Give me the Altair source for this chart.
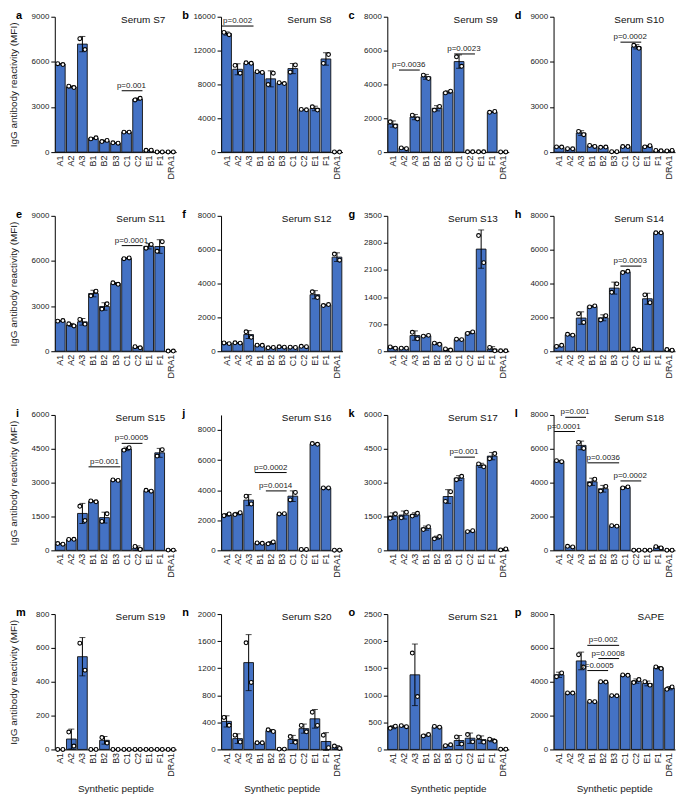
import altair as alt
import pandas as pd

FONT = "Liberation Sans"
BAR_FILL = "#4472C4"

cats = ["A1", "A2", "A3", "B1", "B2", "B3", "C1", "C2", "E1", "F1", "DRA1"]

panel_titles = ["Serum S7", "Serum S8", "Serum S9", "Serum S10",
                "Serum S11", "Serum S12", "Serum S13", "Serum S14",
                "Serum S15", "Serum S16", "Serum S17", "Serum S18",
                "Serum S19", "Serum S20", "Serum S21", "SAPE"]
panel_letters = list("abcdefghijklmnop")
y_max = [9000, 16000, 8000, 9000,
         9000, 8000, 3500, 8000,
         6000, 9000, 6000, 8000,
         800, 2000, 2500, 8000]
y_step = [3000, 4000, 2000, 3000,
          3000, 2000, 700, 2000,
          1500, 2000, 1500, 2000,
          200, 400, 500, 2000]

# replicate values (left dot, right dot) per peptide, in the order of cats
S7_L = [5880, 4380, 7540, 880, 700, 620, 1330, 3470, 120, 10, 10]
S7_R = [5820, 4290, 6820, 950, 780, 590, 1330, 3580, 130, 10, 10]
S8_L = [14150, 10250, 10550, 9500, 7990, 8200, 9450, 5050, 5350, 10490, 20]
S8_R = [13880, 9330, 10500, 9420, 9330, 8100, 10300, 5000, 4970, 11530, 10]
S9_L = [1790, 250, 2180, 4550, 2480, 3500, 5630, 20, 20, 2350, 10]
S9_R = [1530, 200, 1960, 4350, 2700, 3600, 5070, 20, 20, 2400, 10]
S10_L = [350, 230, 1380, 440, 320, 30, 370, 7100, 350, 110, 80]
S10_R = [340, 220, 1160, 380, 340, 30, 370, 6900, 430, 90, 110]
S11_L = [2000, 1820, 2110, 3680, 2800, 4550, 6150, 300, 6850, 6640, 10]
S11_R = [2040, 1680, 1800, 3990, 3150, 4450, 6200, 230, 7100, 7280, 10]
S12_L = [490, 500, 1150, 360, 200, 260, 240, 290, 3510, 2700, 5740]
S12_R = [450, 480, 820, 350, 220, 240, 220, 270, 3170, 2760, 5380]
S13_L = [110, 80, 490, 390, 210, 60, 310, 460, 2990, 100, 10]
S13_R = [80, 80, 320, 410, 180, 30, 300, 500, 2290, 10, 10]
S14_L = [280, 1000, 2220, 2620, 1850, 3480, 4650, 130, 3330, 7000, 100]
S14_R = [350, 950, 1700, 2680, 2100, 3980, 4720, 60, 2870, 7000, 60]
S15_L = [300, 480, 1950, 2190, 1280, 3120, 4440, 170, 2660, 4180, 10]
S15_R = [270, 490, 1320, 2150, 1620, 3100, 4550, 40, 2620, 4460, 10]
S16_L = [2300, 2380, 3600, 490, 430, 2420, 3350, 60, 7100, 4150, 10]
S16_R = [2420, 2500, 3080, 470, 560, 2440, 3850, 60, 7050, 4150, 10]
S17_L = [1420, 1440, 1520, 920, 510, 2170, 3130, 830, 3830, 4060, 20]
S17_R = [1620, 1690, 1640, 1050, 610, 2600, 3280, 870, 3700, 4290, 60]
S18_L = [5300, 240, 6380, 3900, 3500, 1460, 3690, 10, 10, 220, 10]
S18_R = [5240, 200, 6020, 4200, 3780, 1430, 3750, 10, 10, 140, 10]
S19_L = [0, 103, 628, 0, 70, 0, 0, 0, 0, 0, 0]
S19_R = [0, 20, 468, 0, 38, 0, 0, 0, 0, 0, 0]
S20_L = [473, 210, 1575, 98, 290, 5, 190, 355, 550, 210, 50]
S20_R = [356, 110, 990, 98, 265, 5, 105, 260, 355, 25, 15]
S21_L = [390, 440, 1780, 250, 425, 70, 230, 275, 230, 190, 5]
S21_R = [430, 420, 976, 275, 410, 85, 100, 140, 135, 150, 5]
SAPE_L = [4300, 3340, 5600, 2840, 4000, 3180, 4400, 3950, 4000, 4880, 3550]
SAPE_R = [4520, 3330, 4860, 2820, 3980, 3170, 4380, 4130, 3800, 4780, 3690]

left_vals = [S7_L, S8_L, S9_L, S10_L, S11_L, S12_L, S13_L, S14_L,
             S15_L, S16_L, S17_L, S18_L, S19_L, S20_L, S21_L, SAPE_L]
right_vals = [S7_R, S8_R, S9_R, S10_R, S11_R, S12_R, S13_R, S14_R,
              S15_R, S16_R, S17_R, S18_R, S19_R, S20_R, S21_R, SAPE_R]

# significance annotations
ann_panel = [0, 1, 2, 2, 3, 4, 7, 8, 8, 9, 9, 10, 11, 11, 11, 11, 15, 15, 15]
ann_start = ["C1", "A1", "A2", "C1", "C1", "C1", "C1", "B1", "C1", "B1", "B2",
             "C1", "A1", "A2", "B1", "C1", "B1", "B2", "B1"]
ann_end = ["C2", "A3", "A3", "C2", "C2", "C2", "C2", "B3", "C2", "B3", "B3",
           "C2", "A2", "A3", "B3", "C2", "B3", "B3", "B2"]
ann_y = [4080, 14900, 4850, 5800, 7310, 7020, 5030, 3700, 4740, 5170, 3950,
         4130, 7020, 7860, 5170, 4100, 6150, 5370, 4660]
ann_text = ["p=0.001", "p=0.002", "p=0.0036", "p=0.0023", "p=0.0002", "p=0.0001",
            "p=0.0003", "p=0.001", "p=0.0005", "p=0.0002", "p=0.0014", "p=0.001",
            "p=0.0001", "p=0.001", "p=0.0036", "p=0.0002", "p=0.002", "p=0.0008",
            "p=0.0005"]

ann_df = pd.DataFrame({"panel": ann_panel, "start": ann_start, "end": ann_end,
                       "y": ann_y, "label": ann_text})
si = ann_df["start"].map(cats.index)
ei = ann_df["end"].map(cats.index)
ann_df["odd"] = ((si + ei) % 2 == 1)
ann_df["mid"] = [cats[(a + b) // 2] for a, b in zip(si, ei)]

W, H = 122, 136


def make_panel(i):
    r, c = divmod(i, 4)
    left, right = left_vals[i], right_vals[i]
    long_df = pd.DataFrame({"cat": cats + cats, "value": left + right})
    ldf = pd.DataFrame({"cat": cats, "value": left})
    rdf = pd.DataFrame({"cat": cats, "value": right})

    xsc = alt.Scale(domain=cats, paddingInner=0.12, paddingOuter=0.06)
    ysc = alt.Scale(domain=[0, y_max[i]], nice=False, zero=True)
    tick_vals = list(range(0, y_max[i] + 1, y_step[i]))
    yax = alt.Axis(values=tick_vals, grid=False, tickSize=4, labelPadding=2,
                   minExtent=26, maxExtent=26, titlePadding=10, format="d")
    xax = alt.Axis(labelAngle=-90, ticks=False, tickSize=0, labelPadding=3,
                   grid=False, titlePadding=7)
    xt = "Synthetic peptide" if r == 3 else None
    yt = "IgG antibody reactivity (MFI)" if c == 0 else None

    def X(field, **kw):
        return alt.X(field=field, type="nominal", scale=xsc, axis=xax, title=xt, **kw)

    def Y(field, **kw):
        return alt.Y(field=field, type="quantitative", scale=ysc, axis=yax, title=yt, **kw)

    bars = alt.Chart(long_df).mark_bar(
        fill=BAR_FILL, stroke="#111111", strokeWidth=0.9
    ).encode(x=X("cat"), y=Y("value", aggregate="mean"))

    err = alt.Chart(long_df).mark_errorbar(
        extent="stdev", ticks=True, size=6, thickness=1, color="black"
    ).encode(x=X("cat"), y=Y("value"))

    pt_style = dict(shape="circle", fill="white", fillOpacity=1, stroke="black",
                    strokeWidth=1.1, size=15, opacity=1)
    pts_l = alt.Chart(ldf).mark_point(xOffset=-2.6, **pt_style).encode(
        x=X("cat"), y=Y("value"))
    pts_r = alt.Chart(rdf).mark_point(xOffset=2.6, **pt_style).encode(
        x=X("cat"), y=Y("value"))

    layers = [bars, err, pts_l, pts_r]

    a = ann_df[ann_df["panel"] == i]
    if len(a):
        rules = alt.Chart(a).mark_rule(color="black", strokeWidth=1).encode(
            x=X("start", bandPosition=0),
            x2=alt.X2(field="end", bandPosition=1),
            y=Y("y"))
        layers.append(rules)
        a_odd = a[a["odd"]]
        a_even = a[~a["odd"]]
        tstyle = dict(fontSize=8, font=FONT, fontWeight="normal",
                      baseline="bottom", dy=-1, color="#222")
        if len(a_odd):
            layers.append(alt.Chart(a_odd).mark_text(**tstyle).encode(
                x=X("mid", bandPosition=1), y=Y("y"), text="label:N"))
        if len(a_even):
            layers.append(alt.Chart(a_even).mark_text(**tstyle).encode(
                x=X("mid", bandPosition=0.5), y=Y("y"), text="label:N"))

    letter = alt.Chart(pd.DataFrame({"t": [panel_letters[i]]})).mark_text(
        align="left", baseline="alphabetic", fontSize=11, fontWeight="bold",
        font=FONT, color="black"
    ).encode(text="t:N", x=alt.value(-39), y=alt.value(2))
    title = alt.Chart(pd.DataFrame({"t": [panel_titles[i]]})).mark_text(
        align="right", baseline="alphabetic", fontSize=10, fontWeight="normal",
        font=FONT, color="#111"
    ).encode(text="t:N", x=alt.value(111), y=alt.value(6))
    layers += [letter, title]

    return alt.layer(*layers).properties(width=W, height=H)


chart = alt.concat(
    *[make_panel(i) for i in range(16)],
    columns=4,
    spacing={"row": 64, "column": 45},
    bounds="flush",
).properties(padding={"left": 0, "top": 0, "right": 0, "bottom": 0})

chart = chart.configure_view(strokeWidth=0).configure_axis(
    labelFont=FONT, titleFont=FONT, labelColor="#222", titleColor="#222",
    domainColor="black", tickColor="black", domainWidth=1, tickWidth=1,
    titleFontWeight="normal", titleFontSize=10
).configure_axisX(labelFontSize=9).configure_axisY(labelFontSize=8)

chart.save("out.html", embed_options={"renderer": "svg", "actions": False})
